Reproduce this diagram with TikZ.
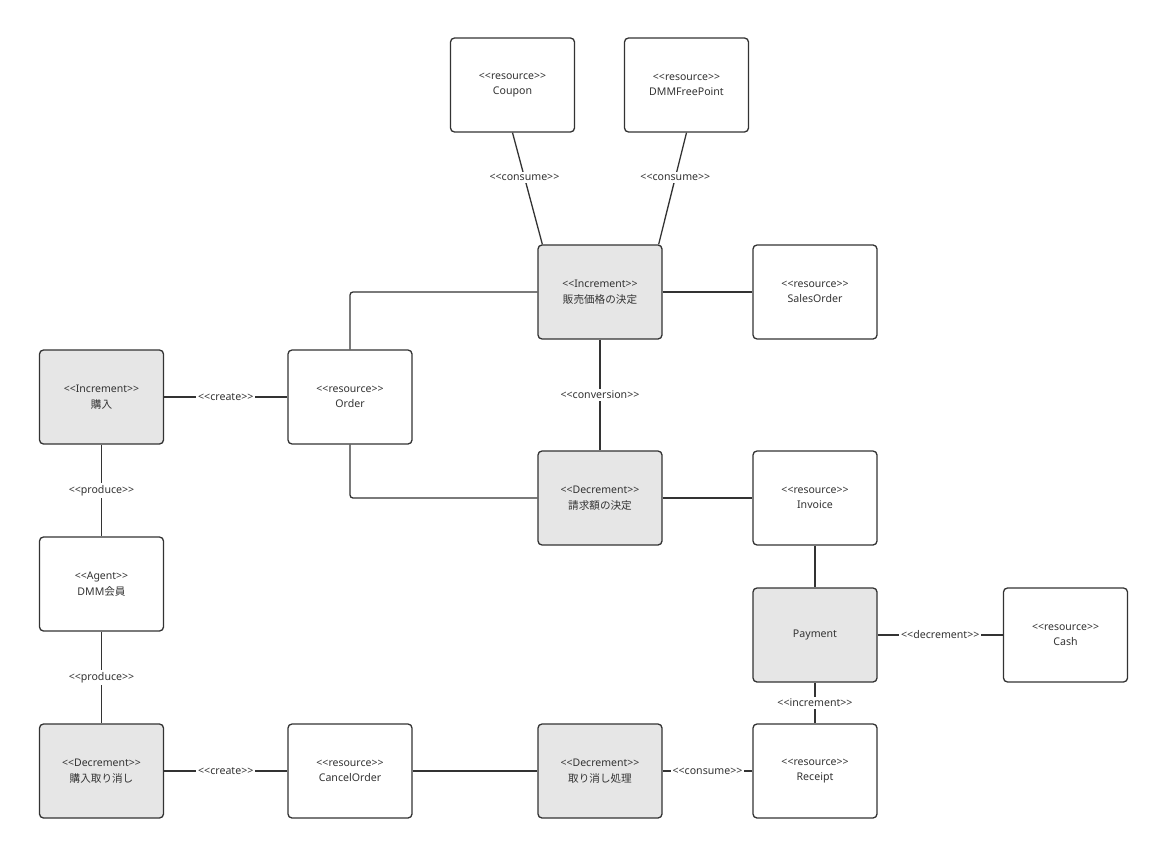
\documentclass[tikz,border=0pt]{standalone}
\usepackage{fontspec}
\setmainfont{Noto Sans}
\newfontfamily\jp{Noto Sans CJK JP}
\definecolor{ln}{HTML}{333333}
\definecolor{gf}{HTML}{E6E6E6}
\definecolor{tx}{HTML}{333333}
\newcommand{\sto}[1]{<\kern0pt<#1>\kern0pt>}
\newcommand{\st}[1]{{\fontsize{10.5}{15}\selectfont\sto{#1}}}
\begin{document}
\begin{tikzpicture}[x=1pt,y=-1pt,
  box/.style={draw=ln,line width=1.3pt,rounded corners=4pt,minimum width=124pt,minimum height=94pt,
    align=center,text=tx,font=\fontsize{10.6}{15.5}\selectfont,inner sep=0pt},
  act/.style={box,fill=gf},
  res/.style={box,fill=white},
  wire/.style={draw=ln,line width=1.3pt},
  lab/.style={fill=white,text=tx,font=\fontsize{10.6}{12}\selectfont,inner sep=2pt}]
\useasboundingbox (0,0) rectangle (1166,856);
\node[res] (coupon) at (512.5,85) {\st{resource}\\Coupon};
\node[res] (dmmfp) at (686.5,85) {\st{resource}\\DMMFreePoint};
\node[act] (hanbai) at (600,292) {\st{Increment}\\{\jp 販売価格の決定}};
\node[res] (sales) at (815,292) {\st{resource}\\SalesOrder};
\node[act] (konyu) at (101.5,397) {\st{Increment}\\{\jp 購入}};
\node[res] (order) at (350,397) {\st{resource}\\Order};
\node[act] (seikyu) at (600,498) {\st{Decrement}\\{\jp 請求額の決定}};
\node[res] (invoice) at (815,498) {\st{resource}\\Invoice};
\node[res] (member) at (101.5,584) {\st{Agent}\\DMM{\jp 会員}};
\node[act] (payment) at (815,635) {Payment};
\node[res] (cash) at (1065.5,635) {\st{resource}\\Cash};
\node[act] (torikeshi) at (101.5,771) {\st{Decrement}\\{\jp 購入取り消し}};
\node[res] (cancel) at (350,771) {\st{resource}\\CancelOrder};
\node[act] (shori) at (600,771) {\st{Decrement}\\{\jp 取り消し処理}};
\node[res] (receipt) at (815,771) {\st{resource}\\Receipt};

\draw[wire] (coupon.south) -- node[lab,pos=0.4] {\sto{consume}} ([xshift=5pt]hanbai.north west);
\draw[wire] (dmmfp.south) -- node[lab,pos=0.4] {\sto{consume}} ([xshift=-4pt]hanbai.north east);
\draw[wire] (hanbai.east) -- (sales.west);
\draw[wire,rounded corners=3pt] (order.north) |- (hanbai.west);
\draw[wire] (konyu.east) -- node[lab] {\sto{create}} (order.west);
\draw[wire] (hanbai.south) -- node[lab] {\sto{conversion}} (seikyu.north);
\draw[wire,rounded corners=3pt] (order.south) |- (seikyu.west);
\draw[wire] (seikyu.east) -- (invoice.west);
\draw[wire] (invoice.south) -- (payment.north);
\draw[wire] (payment.east) -- node[lab] {\sto{decrement}} (cash.west);
\draw[wire] (payment.south) -- node[lab] {\sto{increment}} (receipt.north);
\draw[wire] (konyu.south) -- node[lab] {\sto{produce}} (member.north);
\draw[wire] (member.south) -- node[lab] {\sto{produce}} (torikeshi.north);
\draw[wire] (torikeshi.east) -- node[lab] {\sto{create}} (cancel.west);
\draw[wire] (cancel.east) -- (shori.west);
\draw[wire] (shori.east) -- node[lab] {\sto{consume}} (receipt.west);
\end{tikzpicture}
\end{document}
